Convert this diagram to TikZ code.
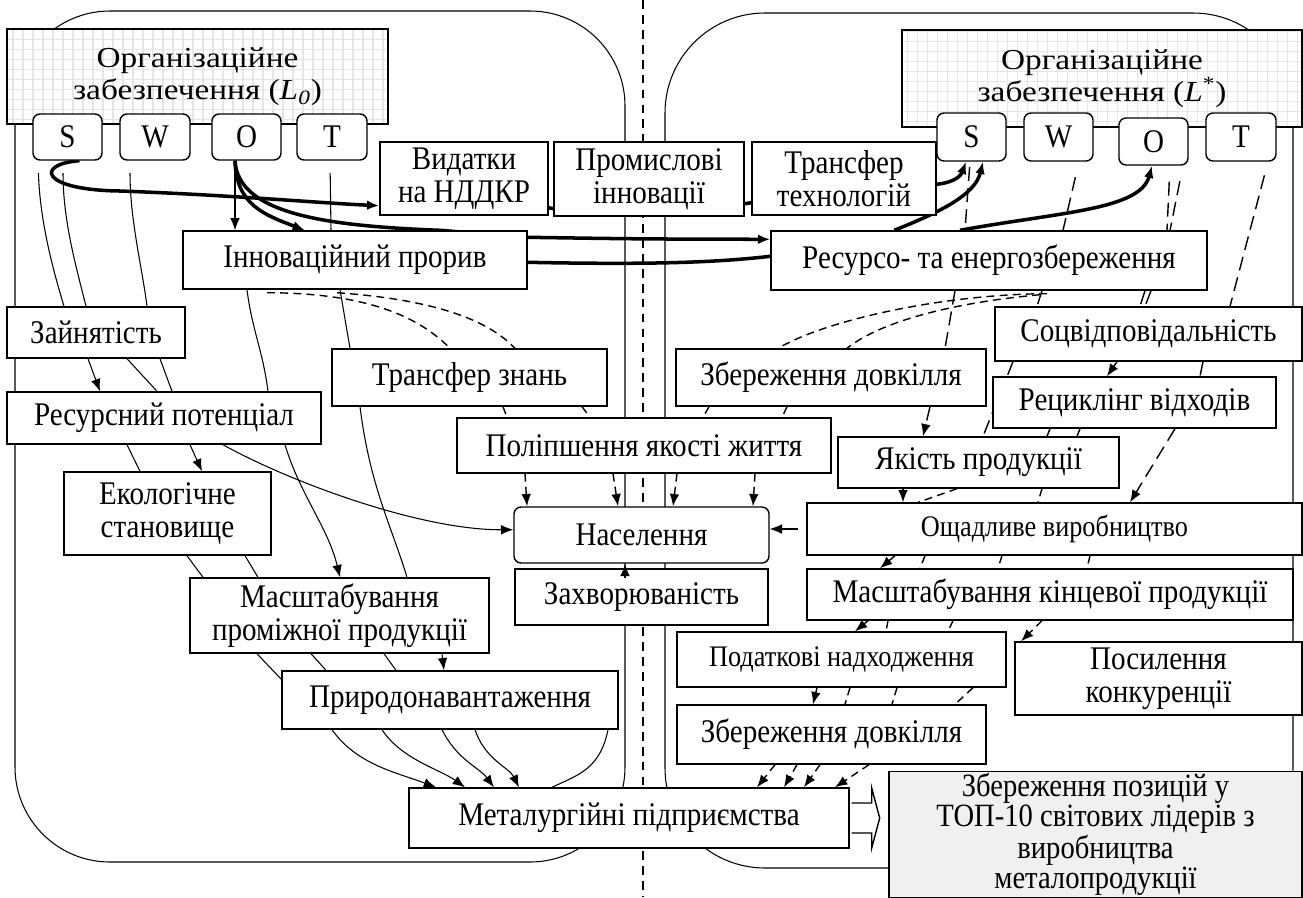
\documentclass[tikz,border=0pt]{standalone}
\usepackage{fontspec}
\setmainfont{Liberation Serif}[FakeStretch=0.88]
\newfontfamily\hdrfont{Liberation Serif}[FakeStretch=1.15]
\usetikzlibrary{arrows.meta}
\usetikzlibrary{calc}
\usetikzlibrary{backgrounds}

\begin{document}
\begin{tikzpicture}[x=0.02cm, y=-0.02cm,
>={Latex[length=7pt,width=5.5pt]},
sz/.style 2 args={minimum width=#1*0.02cm, minimum height=#2*0.02cm},
every node/.style={font=\fontsize{18.8}{19}\selectfont}]
\tikzstyle{box} = [draw, line width=0.8pt, fill=white, inner sep=1pt, align=center]
\tikzstyle{rbox} = [box, rounded corners=4pt]
\tikzstyle{hdr} = [box, font=\hdrfont\fontsize{16.5}{18.5}\selectfont, path picture={\draw[black!10, line width=0.9pt, step=0.2cm] (path picture bounding box.south west) grid (path picture bounding box.north east);}]
\tikzstyle{ln} = [line width=0.6pt]
\tikzstyle{dl} = [line width=0.8pt, dash pattern=on 4.5pt off 3pt]
\tikzstyle{ldl} = [line width=0.8pt, dash pattern=on 8pt off 4pt]
\tikzstyle{tk} = [line width=2pt]

\useasboundingbox (0,0) rectangle (1303,897);

% left part
\node[hdr, sz={381}{95}] (hdrL) at (197.5,76.5) {Організаційне\\забезпечення (\textit{L}\textsubscript{\textit{0}})};
\node[rbox, sz={69}{46}] (sL) at (67.5,137) {S};
\node[rbox, sz={70}{46}] (wL) at (155,137) {W};
\node[rbox, sz={69}{46}] (oL) at (246.5,137) {O};
\node[rbox, sz={70}{46}] (tL) at (332,137) {T};

\node[box, sz={168}{73}] (vid) at (464,178.5) {Видатки\\на НДДКР};
\node[box, sz={190}{74}] (prom) at (649,179) {Промислові\\інновації};
\node[box, sz={184}{73}] (trt) at (844,178.5) {Трансфер\\технологій};

\node[box, sz={344}{58}] (innov) at (355,260) {Інноваційний прорив};
\node[box, sz={178}{51}] (zain) at (96,332.5) {Зайнятість};
\node[box, sz={314}{52}] (respot) at (164,418) {Ресурсний потенціал};
\node[box, sz={207}{83}] (ekol) at (167.5,513.5) {Екологічне\\становище};
\node[box, sz={275}{57}] (trz) at (469.5,377.5) {Трансфер знань};
\node[box, sz={374}{55}] (polip) at (644,445.5) {Поліпшення якості життя};
\node[rbox, sz={255}{56}] (nas) at (641.5,535) {Населення};
\node[box, sz={253}{56}] (zahv) at (641.5,597) {Захворюваність};
\node[box, sz={299}{75}] (masp) at (339.5,615.5) {Масштабування\\проміжної продукції};
\node[box, sz={336}{58}] (prir) at (450,700) {Природонавантаження};
\node[box, sz={440}{60}] (met) at (629,818) {Металургійні підприємства};

% right part
\node[hdr, sz={400}{97}] (hdrR) at (1102,78.5) {Організаційне\\забезпечення (\textit{L}\textsuperscript{*})};
\node[rbox, sz={69}{48}] (sR) at (971.5,137) {S};
\node[rbox, sz={69}{48}] (wR) at (1058.5,137) {W};
\node[rbox, sz={69}{47}] (oR) at (1153.5,141.5) {O};
\node[rbox, sz={70}{48}] (tR) at (1241,137) {T};

\node[box, sz={436}{59}] (rese) at (989,260.5) {Ресурсо- та енергозбереження};
\node[box, sz={310}{57}] (zbd1) at (831,377.5) {Збереження довкілля};
\node[box, sz={307}{54}] (soc) at (1148.5,334) {Соцвідповідальність};
\node[box, sz={283}{51}] (rec) at (1134.5,402.5) {Рециклінг відходів};
\node[box, sz={281}{51}] (yak) at (978.5,462.5) {Якість продукції};
\node[box, sz={495}{52}, font=\fontsize{17}{18}\selectfont] (osch) at (1054.5,529) {Ощадливе виробництво};
\node[box, sz={486}{51}] (mask) at (1050,594.5) {Масштабування кінцевої продукції};
\node[box, sz={329}{55}, font=\fontsize{17}{18}\selectfont] (pod) at (841.5,659.5) {Податкові надходження};
\node[box, sz={287}{73}] (pos) at (1158.5,678.5) {Посилення\\конкуренції};
\node[box, sz={309}{59}] (zbd2) at (831.5,734.5) {Збереження довкілля};
\node[box, sz={413}{125}, fill=black!6, font=\fontsize{18.5}{14.5}\selectfont] (goal) at (1095.5,834.5) {Збереження позицій у\\ТОП-10 світових лідерів з\\виробництва\\металопродукції};

\draw[line width=0.8pt, fill=white] ($(met.east)+(2,-15)$) -- ++(20,0) -- ++(0,-15) -- ++(8,30) -- ++(-8,30) -- ++(0,-15) -- ++(-20,0);
\draw[ln,->] ($(625,0 |- zahv.north)+(0,10)$) -- (625,0 |- nas.south);
\draw[ln,->, shorten <=5pt] (osch.west) -- (nas.east |- osch.west);

\begin{scope}[on background layer]
\draw[ln, rounded corners=1.9cm] (15,11) rectangle (625,862);
\draw[ln, rounded corners=2cm] (665,13) rectangle (1293,868);
\coordinate (divT) at (643,0);
\coordinate (divB) at (643,897);
\draw[ln, dash pattern=on 5pt off 3.5pt] (divT) -- (divB);

% thick links
\draw[tk,->] ($(sL.south)+(12,0)$) .. controls (35,164) and (40,190) .. (120,191) .. controls (230,195) and (320,203) .. ($(vid.south west)+(0,-10)$);
\draw[tk,->] (235,0 |- oL.south) .. controls (236,205) and (265,215) .. (305,0 |- innov.north);
\draw[tk,->] (235,0 |- oL.south) .. controls (238,215) and (330,226) .. (440,0 |- innov.north) -- ($(innov.north east)+(0,7)$) .. controls (640,239) .. ($(rese.north west)+(0,9)$);
\draw[tk] ($(innov.north east)+(0,32)$) .. controls (660,265) and (720,262) .. ($(rese.north west)+(0,26)$);
\draw[tk,->] ($(rese.north west)+(124,0)$) .. controls (940,212) and (975,195) .. (983,0 |- sR.south);
\draw[tk,->] (960,0 |- rese.north) .. controls (1060,212) and (1140,210) .. (1152,0 |- oR.south);
\draw[tk,->] ($(trt.north east)+(0,43)$) .. controls (950,183) and (960,178) .. (966,0 |- sR.south);
\draw[tk] ($(vid.south east)+(0,-8)$) -- ($(prom.south west)+(0,-8)$);
\draw[tk] ($(prom.south east)+(0,-13)$) -- ($(trt.south west)+(0,-13)$);

% left side, solid
\draw[ln, shorten <=7pt] (38,0 |- sL.south) .. controls +(2,60) and +(-12,-40) .. (64,0 |- zain.north);
\draw[ln, shorten <=7pt] (63,0 |- sL.south) .. controls +(0,60) and +(-10,-40) .. (86,0 |- zain.north);
\draw[ln, shorten <=7pt] (130,0 |- wL.south) .. controls +(0,60) and +(-5,-40) .. (147,0 |- zain.north);
\draw[ln,->] (235,0 |- oL.south) -- (235,0 |- innov.north);
\draw[ln, shorten <=7pt] (330,0 |- tL.south) -- (331,0 |- innov.north);
\draw[ln,->] (88,0 |- zain.south) -- (100,0 |- respot.north);
\draw[ln] (127,0 |- zain.south) -- (157,0 |- respot.north);
\draw[ln] (160,0 |- zain.south) -- (172,0 |- respot.north);
\draw[ln] (247,0 |- innov.south) .. controls +(5,40) and +(-5,-40) .. (268,0 |- respot.north);
\draw[ln] (340,0 |- innov.south) -- (350,0 |- trz.north);
\draw[ln] (127,0 |- respot.south) -- (140,0 |- ekol.north);
\draw[ln,->] (190,0 |- respot.south) -- (202,0 |- ekol.north);
\draw[ln,->] (223,0 |- respot.south) .. controls (290,482) and (420,530) .. ([yshift=3pt]nas.west);
\draw[ln,->] (285,0 |- respot.south) .. controls +(15,50) and +(-12,-50) .. (340,0 |- masp.north);
\draw[ln] (360,0 |- trz.south) .. controls +(10,80) and +(-15,-50) .. (407,0 |- masp.north);
\draw[ln] (187,0 |- ekol.south) -- (203,0 |- masp.north);
\draw[ln] (245,0 |- ekol.south) -- (258,0 |- masp.north);
\draw[ln] (257,0 |- masp.south) -- ($(prir.north west)+(0,9)$);
\draw[ln] (311,0 |- masp.south) -- (326,0 |- prir.north);
\draw[ln] (384,0 |- masp.south) -- (396,0 |- prir.north);
\draw[ln,->] (442,0 |- masp.south) -- (444,0 |- prir.north);
\draw[ln,->] (332,0 |- prir.south) .. controls +(25,35) and +(-40,-15) .. (436,0 |- met.north);
\draw[ln,->] (382,0 |- prir.south) .. controls +(20,30) and +(-25,-18) .. (465,0 |- met.north);
\draw[ln,->] (442,0 |- prir.south) .. controls +(15,30) and +(-15,-20) .. (494,0 |- met.north);
\draw[ln,->] (475,0 |- prir.south) .. controls +(10,30) and +(-10,-20) .. (519,0 |- met.north);
\draw[ln] (608,0 |- prir.south) .. controls +(-8,40) and +(25,-12) .. (552,0 |- met.north);

% left side, dashed
\draw[dl] ($(267,0 |- innov.south)+(0,3)$) .. controls (370,293) and (420,318) .. (450,0 |- trz.north);
\draw[dl] ($(337,0 |- innov.south)+(0,3)$) .. controls (440,300) and (490,322) .. (515,0 |- trz.north);
\draw[dl] (503,0 |- trz.south) -- (507,0 |- polip.north);
\draw[dl] (582,0 |- trz.south) -- (590,0 |- polip.north);
\draw[dl,->] (525,0 |- polip.south) -- (527,0 |- nas.north);
\draw[dl,->] (613,0 |- polip.south) -- (618,0 |- nas.north);

% right side, dashed
\draw[dl] ($(1047,0 |- rese.south)+(0,3)$) .. controls (950,294) and (830,318) .. (778,0 |- zbd1.north);
\draw[dl] ($(1040,0 |- rese.south)+(0,4)$) .. controls (950,303) and (880,322) .. (847,0 |- zbd1.north);
\draw[dl] (709,0 |- zbd1.south) -- (703,0 |- polip.north);
\draw[dl] (787,0 |- zbd1.south) -- (782,0 |- polip.north);
\draw[dl,->] (677,0 |- polip.south) -- (673,0 |- nas.north);
\draw[dl,->] (755,0 |- polip.south) -- (753,0 |- nas.north);

\draw[ldl, shorten <=3pt] (970,0 |- sR.south) -- (965,0 |- rese.north);
\draw[ldl] (955,0 |- rese.south) -- (945,0 |- zbd1.north);
\draw[ldl,->] (930,0 |- zbd1.south) -- (923,0 |- yak.north);
\draw[ldl, shorten <=9pt] (1079,0 |- wR.south) -- (1063,0 |- rese.north);
\draw[ldl] (1042,0 |- rese.south) -- (1037,0 |- soc.north);
\draw[ldl] (1013,0 |- soc.south) -- (983,0 |- yak.north);
\draw[ldl, shorten <=9pt] (1170,0 |- oR.south) -- (1167,0 |- rese.north);
\draw[ldl, shorten <=9pt] (1183,0 |- oR.south) -- (1170,0 |- rese.north);
\draw[ldl] (1145,0 |- rese.south) -- (1140,0 |- soc.north);
\draw[ldl] (1151,0 |- rese.south) -- (1145,0 |- soc.north);
\draw[ldl,->] (1117,0 |- soc.south) -- (1107,0 |- rec.north);
\draw[ldl] (1050,0 |- rec.south) -- (1047,0 |- yak.north);
\draw[ldl] (1080,0 |- rec.south) -- (1077,0 |- yak.north);
\draw[ldl, shorten <=8pt] (1268,0 |- tR.south) -- (1230,0 |- soc.north);
\draw[ldl] (1203,0 |- soc.south) -- (1200,0 |- rec.north);
\draw[ldl,->] (1175,0 |- rec.south) -- (1130,0 |- osch.north);

\draw[dl,->] (903,0 |- yak.south) -- (903,0 |- osch.north);
\draw[dl] (957,0 |- yak.south) -- (918,0 |- osch.north);
\draw[dl] (1042,0 |- yak.south) -- (1038,0 |- osch.north);
\draw[dl,->] (895,0 |- osch.south) -- (880,0 |- mask.north);
\draw[dl] (925,0 |- osch.south) -- (920,0 |- mask.north);
\draw[dl] (1002,0 |- osch.south) -- (998,0 |- mask.north);
\draw[dl] (1090,0 |- osch.south) -- (1087,0 |- mask.north);
\draw[dl,->] (868,0 |- mask.south) -- (855,0 |- pod.north);
\draw[dl] (888,0 |- mask.south) -- (886,0 |- pod.north);
\draw[dl] (953,0 |- mask.south) -- (948,0 |- pod.north);
\draw[dl,->] (1042,0 |- mask.south) -- (1021,0 |- pos.north);
\draw[dl,->] (817,0 |- pod.south) -- (813,0 |- zbd2.north);
\draw[dl] (850,0 |- pod.south) -- (845,0 |- zbd2.north);
\draw[dl] (897,0 |- pod.south) -- (892,0 |- zbd2.north);
\draw[dl] (973,0 |- pod.south) -- (955,0 |- zbd2.north);
\draw[dl,->] (775,0 |- zbd2.south) -- (757,0 |- met.north);
\draw[dl,->] (797,0 |- zbd2.south) -- (784,0 |- met.north);
\draw[dl,->] (820,0 |- zbd2.south) -- (804,0 |- met.north);
\draw[dl,->] (869,0 |- zbd2.south) -- (835,0 |- met.north);
\end{scope}

\end{tikzpicture}
\end{document}
